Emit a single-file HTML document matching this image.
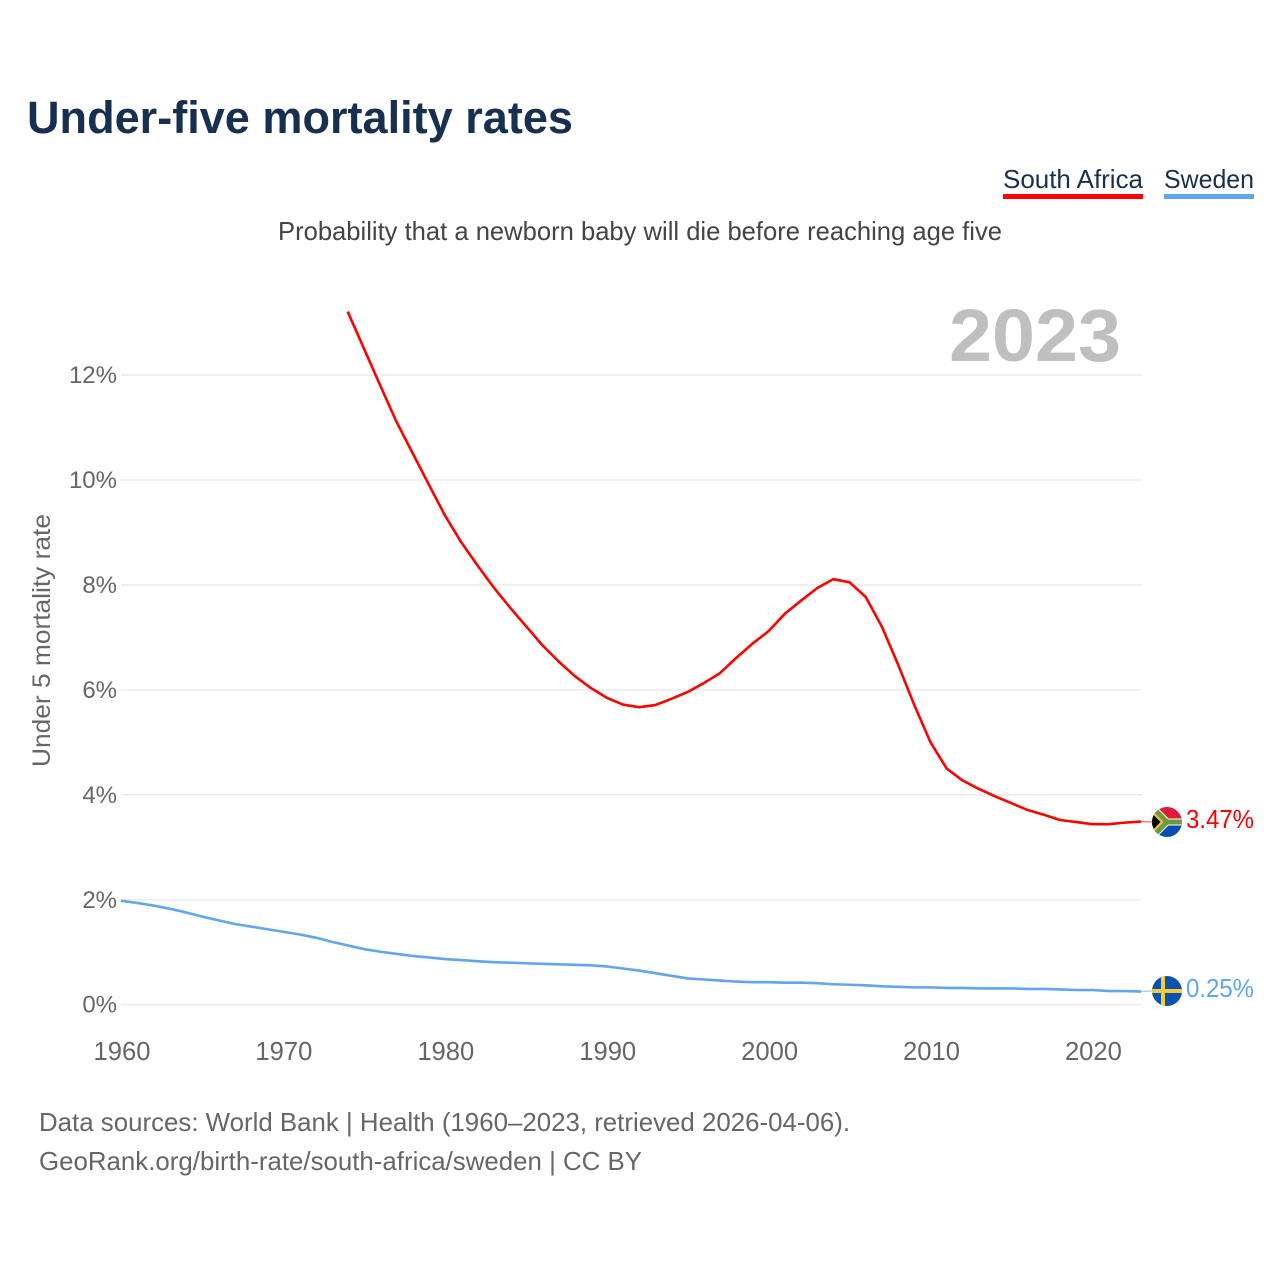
<!DOCTYPE html>
<html lang="en">
<head>
<meta charset="utf-8">
<title>Under-five mortality rates</title>
<style>
html,body{margin:0;padding:0;background:#fff;width:1280px;height:1280px;overflow:hidden}
svg{display:block}
text{font-family:"Liberation Sans",Arial,sans-serif}
</style>
</head>
<body>
<svg id="chart" xmlns="http://www.w3.org/2000/svg" width="1280" height="1280" viewBox="0 0 1280 1280">
  <rect width="1280" height="1280" fill="#fff"/>
  <text x="27" y="133" font-size="45" font-weight="700" fill="#18304f" textLength="546" lengthAdjust="spacingAndGlyphs">Under-five mortality rates</text>
  <text x="1003" y="188" font-size="26" fill="#18304f" textLength="140" lengthAdjust="spacingAndGlyphs">South Africa</text>
  <rect x="1003" y="194" width="140" height="5" fill="#ff0000"/>
  <text x="1164" y="188" font-size="26" fill="#18304f" textLength="90" lengthAdjust="spacingAndGlyphs">Sweden</text>
  <rect x="1164" y="194" width="90" height="5" fill="#60a5ed"/>
  <text x="278" y="240" font-size="26" fill="#444" textLength="724" lengthAdjust="spacingAndGlyphs">Probability that a newborn baby will die before reaching age five</text>
  <text x="949" y="361" font-size="74" font-weight="700" fill="#bfbfbf" textLength="172" lengthAdjust="spacingAndGlyphs">2023</text>
  <text transform="translate(50,767) rotate(-90)" font-size="25" fill="#666" textLength="253" lengthAdjust="spacingAndGlyphs">Under 5 mortality rate</text>
  <g id="grid"></g>
  <g id="yticks"></g>
  <g id="xticks"></g>
  <g id="series"></g>
  <defs>
    <clipPath id="clip-za"><circle cx="1167" cy="822" r="15"/></clipPath>
    <clipPath id="clip-se"><circle cx="1167" cy="991" r="15"/></clipPath>
  </defs>
  <g clip-path="url(#clip-za)">
    <rect x="1152" y="807" width="30" height="15" fill="#de1b3c"/>
    <rect x="1152" y="822" width="30" height="15" fill="#0a4eb0"/>
    <path d="M1152 807 L1167 822 L1152 837 Z" fill="#000"/>
    <path d="M1152 807 L1167 822 H1182 M1152 837 L1167 822" fill="none" stroke="#fff" stroke-width="7"/>
    <path d="M1150 805 L1167 822 H1184 M1150 839 L1167 822" fill="none" stroke="#6d9b3c" stroke-width="5"/>
    <path d="M1152 812 L1162 822 L1152 832" fill="none" stroke="#f5c02c" stroke-width="2"/>
  </g>
  <g clip-path="url(#clip-se)">
    <rect x="1152" y="976" width="30" height="30" fill="#0a52ab"/>
    <rect x="1152" y="989" width="30" height="4" fill="#f8c93c"/>
    <rect x="1161" y="976" width="4" height="30" fill="#f8c93c"/>
  </g>
  <text x="1186" y="828" font-size="26" fill="#ff0000" textLength="68" lengthAdjust="spacingAndGlyphs">3.47%</text>
  <text x="1186" y="997" font-size="26" fill="#60a5ed" textLength="68" lengthAdjust="spacingAndGlyphs">0.25%</text>
  <text x="39" y="1131" font-size="26" fill="#666" textLength="811" lengthAdjust="spacingAndGlyphs">Data sources: World Bank | Health (1960–2023, retrieved 2026-04-06).</text>
  <text x="39" y="1170" font-size="26" fill="#666" textLength="603" lengthAdjust="spacingAndGlyphs">GeoRank.org/birth-rate/south-africa/sweden | CC BY</text>
</svg>
<script>
var yTickValues = [0, 2, 4, 6, 8, 10, 12];
var xTickYears = [1960, 1970, 1980, 1990, 2000, 2010, 2020];
var southAfricaYears = [1974,1975,1976,1977,1978,1979,1980,1981,1982,1983,1984,1985,1986,1987,1988,1989,1990,1991,1992,1993,1994,1995,1996,1997,1998,1999,2000,2001,2002,2003,2004,2005,2006,2007,2008,2009,2010,2011,2012,2013,2014,2015,2016,2017,2018,2019,2020,2021,2022,2023];
var southAfricaValues = [13.21,12.51,11.81,11.12,10.52,9.92,9.33,8.82,8.38,7.96,7.58,7.22,6.86,6.55,6.27,6.04,5.85,5.72,5.67,5.71,5.83,5.96,6.13,6.32,6.61,6.88,7.12,7.45,7.7,7.94,8.11,8.05,7.77,7.2,6.48,5.71,5.0,4.5,4.27,4.11,3.97,3.84,3.71,3.62,3.52,3.48,3.44,3.44,3.47,3.49];
var swedenYears = [1960,1961,1962,1963,1964,1965,1966,1967,1968,1969,1970,1971,1972,1973,1974,1975,1976,1977,1978,1979,1980,1981,1982,1983,1984,1985,1986,1987,1988,1989,1990,1991,1992,1993,1994,1995,1996,1997,1998,1999,2000,2001,2002,2003,2004,2005,2006,2007,2008,2009,2010,2011,2012,2013,2014,2015,2016,2017,2018,2019,2020,2021,2022,2023];
var swedenValues = [1.98,1.94,1.89,1.83,1.76,1.68,1.61,1.54,1.49,1.44,1.39,1.34,1.28,1.2,1.13,1.06,1.01,0.97,0.93,0.9,0.87,0.85,0.83,0.81,0.8,0.79,0.78,0.77,0.76,0.75,0.73,0.69,0.65,0.6,0.55,0.5,0.48,0.46,0.44,0.43,0.43,0.42,0.42,0.41,0.39,0.38,0.37,0.35,0.34,0.33,0.33,0.32,0.32,0.31,0.31,0.31,0.3,0.3,0.29,0.28,0.28,0.26,0.26,0.25];

var NS = 'http://www.w3.org/2000/svg';
function xScale(year) { return 121 + (year - 1960) * (1020 / 63); }
function yScale(v) { return 1004.7 - v * 52.47; }

function polyPoints(years, values) {
  return years.map(function (yr, i) {
    return xScale(yr).toFixed(2) + ',' + yScale(values[i]).toFixed(2);
  }).join(' ');
}

var gridGroup = document.getElementById('grid');
var yGroup = document.getElementById('yticks');
var xGroup = document.getElementById('xticks');
var seriesGroup = document.getElementById('series');

yTickValues.forEach(function (v) {
  var line = document.createElementNS(NS, 'line');
  
  
  line.setAttribute('x1', xScale(1960));
  line.setAttribute('x2', xScale(2023) + 1);
  line.setAttribute('y1', yScale(v));
  line.setAttribute('y2', yScale(v));
  line.setAttribute('stroke', '#ececec');
  line.setAttribute('stroke-width', '1.6');
  gridGroup.appendChild(line);

  var label = document.createElementNS(NS, 'text');
  
  
  label.setAttribute('x', 117);
  label.setAttribute('y', yScale(v) + 8);
  label.setAttribute('text-anchor', 'end');
  label.setAttribute('font-size', '24');
  label.setAttribute('fill', '#666');
  label.textContent = v + '%';
  yGroup.appendChild(label);
});

xTickYears.forEach(function (yr) {
  var label = document.createElementNS(NS, 'text');
  
  
  label.setAttribute('x', xScale(yr) + 1);
  label.setAttribute('y', 1060);
  label.setAttribute('text-anchor', 'middle');
  label.setAttribute('font-size', '25.6');
  label.setAttribute('fill', '#666');
  label.textContent = yr;
  xGroup.appendChild(label);
});

var swedenLine = document.createElementNS(NS, 'polyline');


swedenLine.setAttribute('points', polyPoints(swedenYears, swedenValues));
swedenLine.setAttribute('fill', 'none');
swedenLine.setAttribute('stroke', '#60a5ed');
swedenLine.setAttribute('stroke-width', '2.6');
swedenLine.setAttribute('stroke-linejoin', 'round');
seriesGroup.appendChild(swedenLine);

var southAfricaLine = document.createElementNS(NS, 'polyline');


southAfricaLine.setAttribute('points', polyPoints(southAfricaYears, southAfricaValues));
southAfricaLine.setAttribute('fill', 'none');
southAfricaLine.setAttribute('stroke', '#ff0000');
southAfricaLine.setAttribute('stroke-width', '2.6');
southAfricaLine.setAttribute('stroke-linejoin', 'round');
seriesGroup.appendChild(southAfricaLine);

var zaConnector = document.createElementNS(NS, 'line');


zaConnector.setAttribute('x1', xScale(2023));
zaConnector.setAttribute('x2', 1152);
zaConnector.setAttribute('y1', yScale(southAfricaValues[southAfricaValues.length - 1]));
zaConnector.setAttribute('y2', 822);
zaConnector.setAttribute('stroke', '#ff0000');
zaConnector.setAttribute('stroke-width', '1.2');
zaConnector.setAttribute('stroke-opacity', '0.6');
seriesGroup.appendChild(zaConnector);

var seConnector = document.createElementNS(NS, 'line');


seConnector.setAttribute('x1', xScale(2023));
seConnector.setAttribute('x2', 1152);
seConnector.setAttribute('y1', yScale(swedenValues[swedenValues.length - 1]));
seConnector.setAttribute('y2', 991);
seConnector.setAttribute('stroke', '#60a5ed');
seConnector.setAttribute('stroke-width', '1.2');
seConnector.setAttribute('stroke-opacity', '0.6');
seriesGroup.appendChild(seConnector);
</script>
</body>
</html>
